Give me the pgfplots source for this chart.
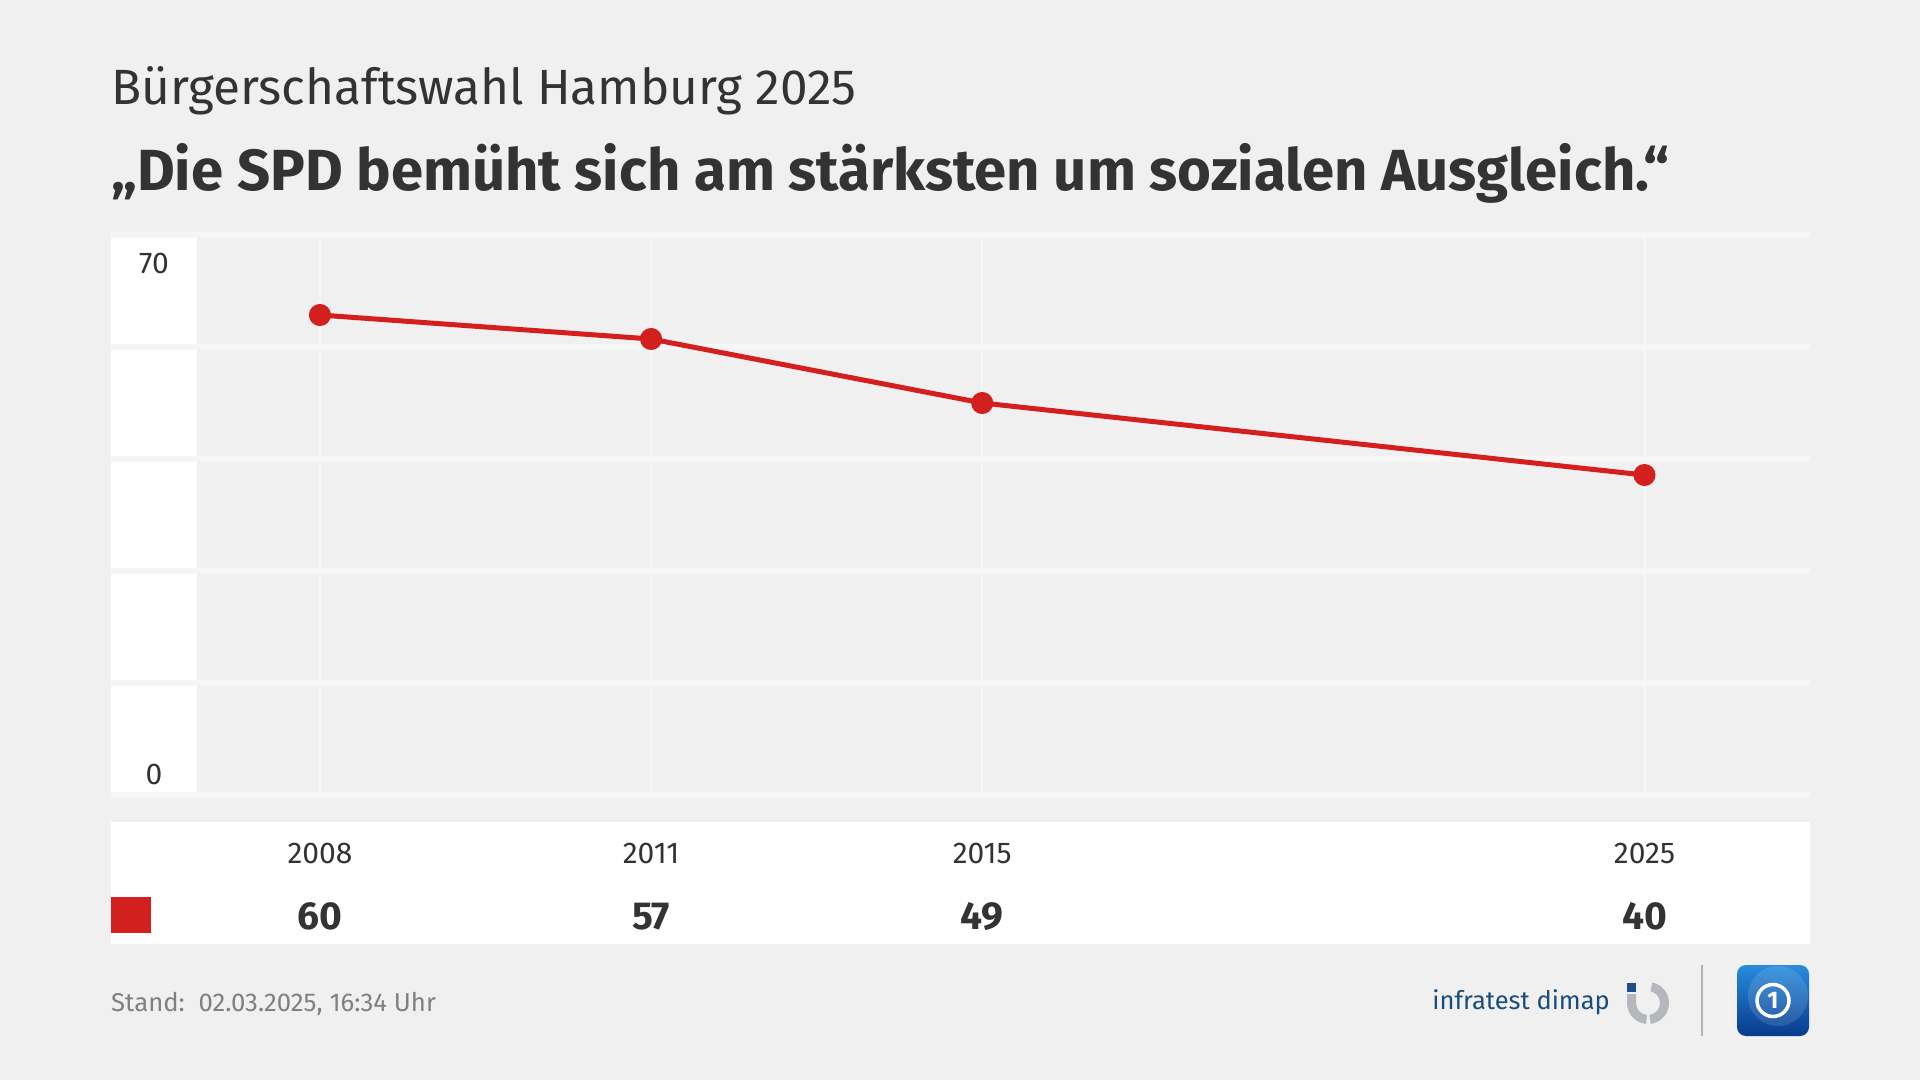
\documentclass[border=0pt]{standalone}
\usepackage{fontspec}
\setmainfont{Fira Sans}
\usepackage{pgfplots}
\pgfplotsset{compat=1.18}
\definecolor{bg}{HTML}{F0F0F0}
\definecolor{gridc}{HTML}{F6F6F6}
\definecolor{spd}{HTML}{D41F1F}
\definecolor{txt}{HTML}{333333}
\definecolor{foot}{HTML}{808080}
\definecolor{infra}{HTML}{1B4D7A}
\definecolor{infrablue}{HTML}{1F4E8C}
\definecolor{infragray}{HTML}{B4B8BC}
\definecolor{tsTop}{RGB}{40,140,222}
\definecolor{tsBot}{RGB}{8,58,140}
\begin{document}
\begin{tikzpicture}[x=1pt,y=1pt]
\fill[bg] (0,0) rectangle (1920,1080);
% white label column and table band
\fill[white] (111,285) rectangle (197,845);
\fill[white] (111,136) rectangle (1810,258);
\fill[spd] (111,147) rectangle (151,183);
% titles
\node[anchor=base west, inner sep=0, text=txt, font=\fontsize{49.5}{58}\selectfont] at (111,975) {Bürgerschaftswahl Hamburg 2025};
\node[anchor=base west, inner sep=0, text=txt, font=\fontsize{58}{66}\selectfont\bfseries] at (111,889) {„Die SPD bemüht sich am stärksten um sozialen Ausgleich.“};
\begin{axis}[
  at={(111pt,285pt)}, anchor=south west,
  scale only axis, width=1699pt, height=560pt,
  xmin=-0.631, xmax=4.5, ymin=0, ymax=70,
  clip=false,
  axis line style={draw=none},
  tick style={draw=none},
  xtick={0,1,2,4}, xticklabels={},
  ytick={0,14,28,42,56,70}, yticklabels={},
  xmajorgrids, ymajorgrids,
  every axis y grid/.style={draw=gridc, line width=6pt},
  every axis x grid/.style={draw=gridc, line width=2.5pt},
]
\addplot[spd, line width=5pt, mark=*, mark size=8.5pt, mark options={solid, fill=spd, draw=spd}] coordinates {(0,60) (1,57) (2,49) (4,40)};
% y labels
\node[anchor=base, inner sep=0, text=txt, font=\fontsize{30}{36}\selectfont] at (axis cs:-0.5015,65.25) {70};
\node[anchor=base, inner sep=0, text=txt, font=\fontsize{30}{36}\selectfont] at (axis cs:-0.5015,1.375) {0};
% table: years
\node[anchor=base, inner sep=0, text=txt, font=\fontsize{30}{36}\selectfont] at (axis cs:0,-8.5) {2008};
\node[anchor=base, inner sep=0, text=txt, font=\fontsize{30}{36}\selectfont] at (axis cs:1,-8.5) {2011};
\node[anchor=base, inner sep=0, text=txt, font=\fontsize{30}{36}\selectfont] at (axis cs:2,-8.5) {2015};
\node[anchor=base, inner sep=0, text=txt, font=\fontsize{30}{36}\selectfont] at (axis cs:4,-8.5) {2025};
% table: values
\node[anchor=base, inner sep=0, text=txt, font=\fontsize{39}{46}\selectfont\bfseries] at (axis cs:0,-16.8) {60};
\node[anchor=base, inner sep=0, text=txt, font=\fontsize{39}{46}\selectfont\bfseries] at (axis cs:1,-16.8) {57};
\node[anchor=base, inner sep=0, text=txt, font=\fontsize{39}{46}\selectfont\bfseries] at (axis cs:2,-16.8) {49};
\node[anchor=base, inner sep=0, text=txt, font=\fontsize{39}{46}\selectfont\bfseries] at (axis cs:4,-16.8) {40};
\end{axis}
% footer
\node[anchor=base west, inner sep=0, text=foot, font=\fontsize{25.7}{30}\selectfont] at (111,69) {Stand:\ \ 02.03.2025, 16:34 Uhr};
\node[anchor=base east, inner sep=0, text=infra, font=\fontsize{25.5}{30}\selectfont] at (1610,71) {infratest dimap};
% infratest icon
\fill[infrablue] (1627,88) rectangle (1636,97);
\fill[infragray] (1627,86) -- (1627,77) arc[start angle=180, end angle=265, radius=21] -- ++(85:9) arc[start angle=265, end angle=180, radius=12] -- (1636,86) -- cycle;
\fill[infragray] (1648,77) ++(78:21) arc[start angle=78, end angle=-83, radius=21] -- ++(97:9) arc[start angle=-83, end angle=78, radius=12] -- cycle;
% separator
\draw[foot!60, line width=2pt] (1702,44) -- (1702,115);
% tagesschau logo
\shade[rounded corners=9pt, top color=tsTop, bottom color=tsBot] (1737,44) rectangle (1809,115);
\fill[white, opacity=0.12] (1778,84) circle[radius=30];
\draw[white, line width=3.5pt] (1773,79.5) circle[radius=16];
\node[text=white, font=\fontsize{24}{24}\selectfont\bfseries, inner sep=0] at (1773,79.5) {1};
\pgfresetboundingbox
\path (0,0) rectangle (1920,1080);
\end{tikzpicture}
\end{document}
